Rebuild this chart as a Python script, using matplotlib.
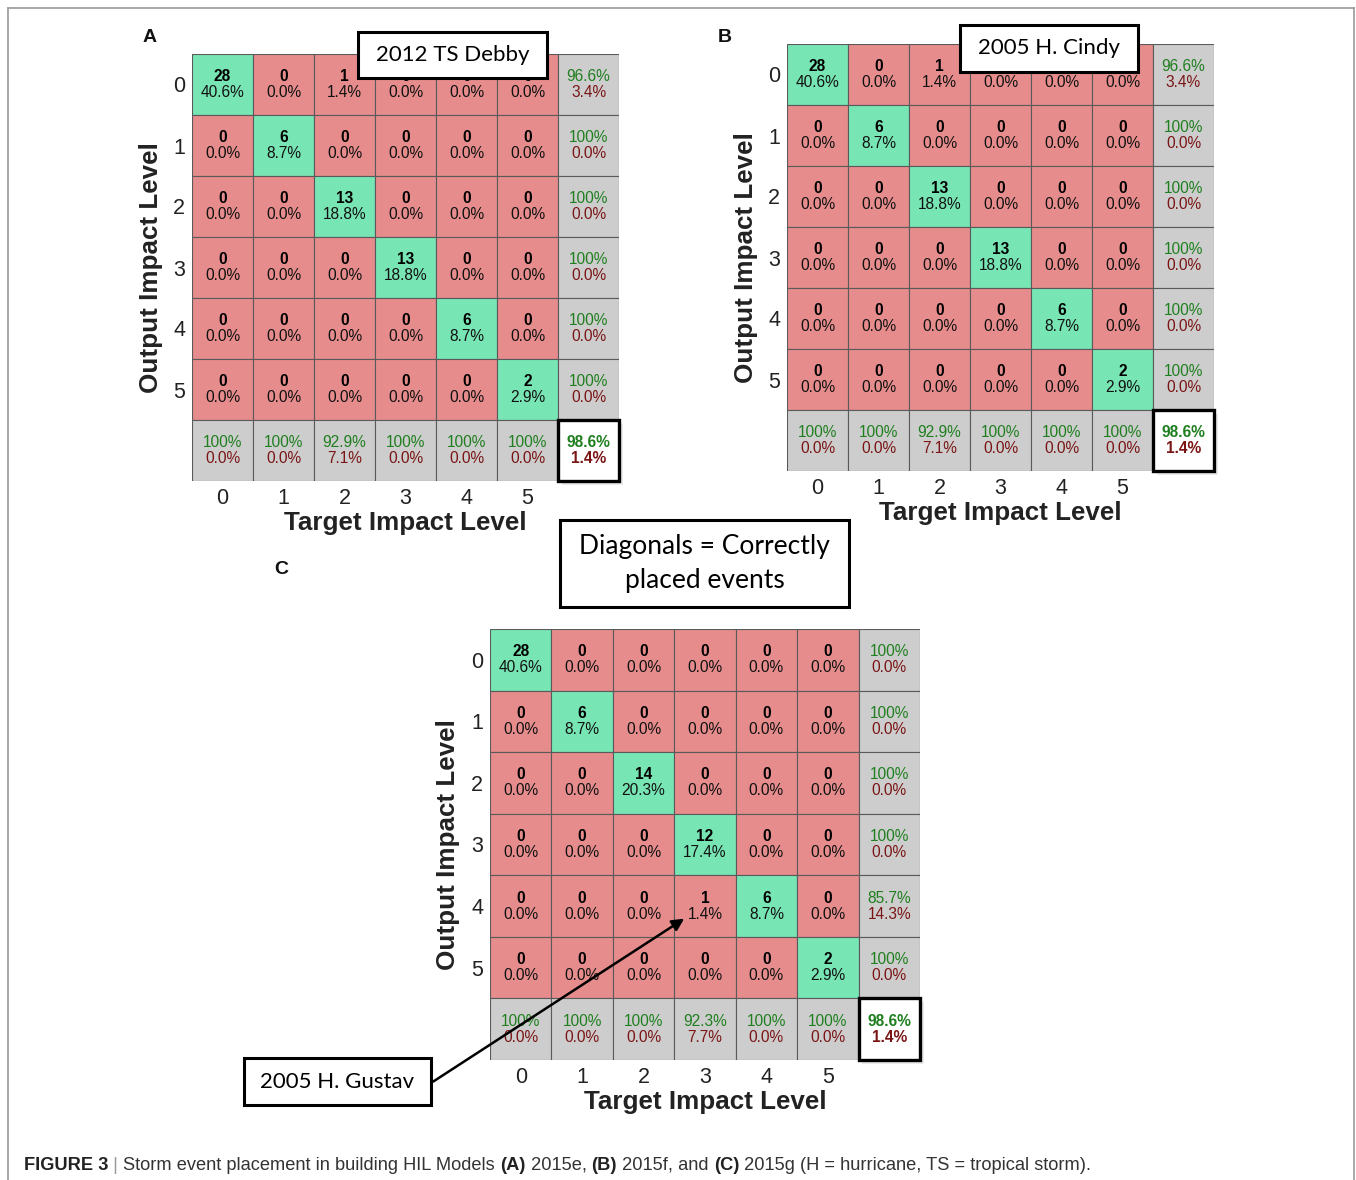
import numpy as np
import matplotlib
matplotlib.use("Agg")
import matplotlib.pyplot as plt
from matplotlib.patches import Rectangle
from matplotlib.offsetbox import TextArea, HPacker, AnchoredOffsetbox

plt.rcParams['font.family'] = ['Liberation Sans', 'DejaVu Sans']

# ---------------- data ----------------
levels = ['0', '1', '2', '3', '4', '5']
# rows = output impact level, columns = target impact level
counts_A = [[28, 0, 1, 0, 0, 0],
            [0, 6, 0, 0, 0, 0],
            [0, 0, 13, 0, 0, 0],
            [0, 0, 0, 13, 0, 0],
            [0, 0, 0, 0, 6, 0],
            [0, 0, 0, 0, 0, 2]]
counts_B = [[28, 0, 1, 0, 0, 0],
            [0, 6, 0, 0, 0, 0],
            [0, 0, 13, 0, 0, 0],
            [0, 0, 0, 13, 0, 0],
            [0, 0, 0, 0, 6, 0],
            [0, 0, 0, 0, 0, 2]]
counts_C = [[28, 0, 0, 0, 0, 0],
            [0, 6, 0, 0, 0, 0],
            [0, 0, 14, 0, 0, 0],
            [0, 0, 0, 12, 0, 0],
            [0, 0, 0, 1, 6, 0],
            [0, 0, 0, 0, 0, 2]]
panel_letters = ['A', 'B', 'C']
callout_A = '2012 TS Debby'
callout_B = '2005 H. Cindy'
callout_C = '2005 H. Gustav'
note_text = 'Diagonals = Correctly\nplaced events'
xlabel = 'Target Impact Level'
ylabel = 'Output Impact Level'

# ---------------- style ----------------
W, H = 1356, 1180
GREEN = '#78E5B4'
RED = '#E68C8C'
GRAY = '#CDCDCD'
TXT_G = '#1F7F1F'
TXT_R = '#7A1515'
EDGE = '#5a5a5a'
BOXFONT = ['Lato', 'DejaVu Sans']

fig = plt.figure(figsize=(W / 100, H / 100), dpi=100)
ov = fig.add_axes([0, 0, 1, 1], zorder=10)
ov.set_xlim(0, W)
ov.set_ylim(H, 0)
ov.axis('off')
ov.patch.set_alpha(0)


def fmt(p):
    return '100%' if abs(p - 100) < 1e-9 else f'{p:.1f}%'


def panel(box, counts):
    x0, y0, x1, y1 = box
    ax = fig.add_axes([x0 / W, 1 - y1 / H, (x1 - x0) / W, (y1 - y0) / H])
    c = np.array(counts, dtype=float)
    n = c.shape[0]
    total = c.sum()
    ax.set_xlim(0, n + 1)
    ax.set_ylim(n + 1, 0)
    for s in ax.spines.values():
        s.set_visible(False)
    for i in range(n + 1):
        for j in range(n + 1):
            if i < n and j < n:
                col = GREEN if i == j else RED
            elif i == n and j == n:
                continue
            else:
                col = GRAY
            ax.add_patch(Rectangle((j, i), 1, 1, facecolor=col, edgecolor=EDGE, lw=0.8))
    fs = 11.2
    for i in range(n):
        for j in range(n):
            ax.text(j + 0.5, i + 0.37, f'{int(c[i, j])}', ha='center', va='center',
                    fontsize=fs, fontweight='bold', color='black')
            ax.text(j + 0.5, i + 0.63, f'{100 * c[i, j] / total:.1f}%', ha='center',
                    va='center', fontsize=fs, color='#111111')
    rows = c.sum(axis=1)
    cols = c.sum(axis=0)
    diag = np.diag(c)
    for i in range(n):
        p = 100 * diag[i] / rows[i]
        ax.text(n + 0.5, i + 0.37, fmt(p), ha='center', va='center', fontsize=fs, color=TXT_G)
        ax.text(n + 0.5, i + 0.63, f'{100 - p:.1f}%', ha='center', va='center', fontsize=fs, color=TXT_R)
    for j in range(n):
        p = 100 * diag[j] / cols[j]
        ax.text(j + 0.5, n + 0.37, fmt(p), ha='center', va='center', fontsize=fs, color=TXT_G)
        ax.text(j + 0.5, n + 0.63, f'{100 - p:.1f}%', ha='center', va='center', fontsize=fs, color=TXT_R)
    acc = 100 * diag.sum() / total
    ax.add_patch(Rectangle((n + 0.06, n + 0.06), 1, 1, facecolor='#dddddd', edgecolor='none',
                           clip_on=False, alpha=0.6))
    ax.add_patch(Rectangle((n, n), 1, 1, facecolor='white', edgecolor='black', lw=2.4,
                           clip_on=False, zorder=3))
    ax.text(n + 0.5, n + 0.37, f'{acc:.1f}%', ha='center', va='center', fontsize=fs,
            fontweight='bold', color=TXT_G, zorder=4)
    ax.text(n + 0.5, n + 0.63, f'{100 - acc:.1f}%', ha='center', va='center', fontsize=fs,
            fontweight='bold', color=TXT_R, zorder=4)
    ax.set_xticks(np.arange(n) + 0.5)
    ax.set_xticklabels(levels)
    ax.set_yticks(np.arange(n) + 0.5)
    ax.set_yticklabels(levels)
    ax.tick_params(length=0, labelsize=15.5, pad=5, colors='#222222')
    ax.text(0.5, -0.07, xlabel, transform=ax.transAxes, ha='center', va='top',
            fontsize=18.7, fontweight='bold', color='#222222')
    ax.text(-0.097, 0.5, ylabel, transform=ax.transAxes, ha='center', va='center',
            rotation=90, fontsize=18.7, fontweight='bold', color='#222222')
    return ax


axA = panel((192, 54, 619, 481), counts_A)
axB = panel((787, 44, 1214, 471), counts_B)
axC = panel((490, 629, 920, 1060), counts_C)

# panel letters
for (x, y), l in zip([(150, 37), (725, 37), (281, 570)], panel_letters):
    ov.text(x, y, l, ha='center', va='center', fontsize=14, fontweight='bold', color='#111111')


def callout(x0, y0, x1, y1, text, fs, ls=1.3):
    ov.add_patch(Rectangle((x0, y0), x1 - x0, y1 - y0, facecolor='white', edgecolor='black', lw=2.2))
    ov.text((x0 + x1) / 2, (y0 + y1) / 2, text, ha='center', va='center', fontsize=fs,
            family=BOXFONT, color='black', linespacing=ls)


callout(358, 32, 547, 78, callout_A, 16)
callout(960, 25, 1138, 72, callout_B, 16)
callout(560, 520, 849, 607, note_text, 19, ls=1.42)
callout(244, 1058, 431, 1105, callout_C, 16)

# arrow from Gustav box to misplaced cell in C
axC.annotate('', xy=(3.2, 4.68), xycoords='data', xytext=(431, H - 1083),
             textcoords='figure pixels', annotation_clip=False,
             arrowprops=dict(arrowstyle='-|>', color='black', lw=1.8, mutation_scale=18),
             zorder=20)

# frame
ov.plot([8, 8], [1180, 8], color='#9a9a9a', lw=1.2)
ov.plot([8, 1354], [8, 8], color='#9a9a9a', lw=1.2)
ov.plot([1354, 1354], [8, 1180], color='#9a9a9a', lw=1.2)

# caption
fs_cap = 13.15
parts = [('FIGURE 3', 'bold', '#222222'), (' | ', 'normal', '#999999'),
         ('Storm event placement in building HIL Models ', 'normal', '#333333'),
         ('(A)', 'bold', '#222222'), (' 2015e, ', 'normal', '#333333'),
         ('(B)', 'bold', '#222222'), (' 2015f, and ', 'normal', '#333333'),
         ('(C)', 'bold', '#222222'),
         (' 2015g (H = hurricane, TS = tropical storm).', 'normal', '#333333')]
areas = [TextArea(t, textprops=dict(fontsize=fs_cap, fontweight=w, color=c)) for t, w, c in parts]
pack = HPacker(children=areas, align='baseline', pad=0, sep=0)
ab = AnchoredOffsetbox(loc='center left', child=pack, pad=0, frameon=False,
                       bbox_to_anchor=(24 / W, 1 - 1165 / H), bbox_transform=fig.transFigure,
                       borderpad=0)
ov.add_artist(ab)

fig.savefig('out.png', dpi=100)
